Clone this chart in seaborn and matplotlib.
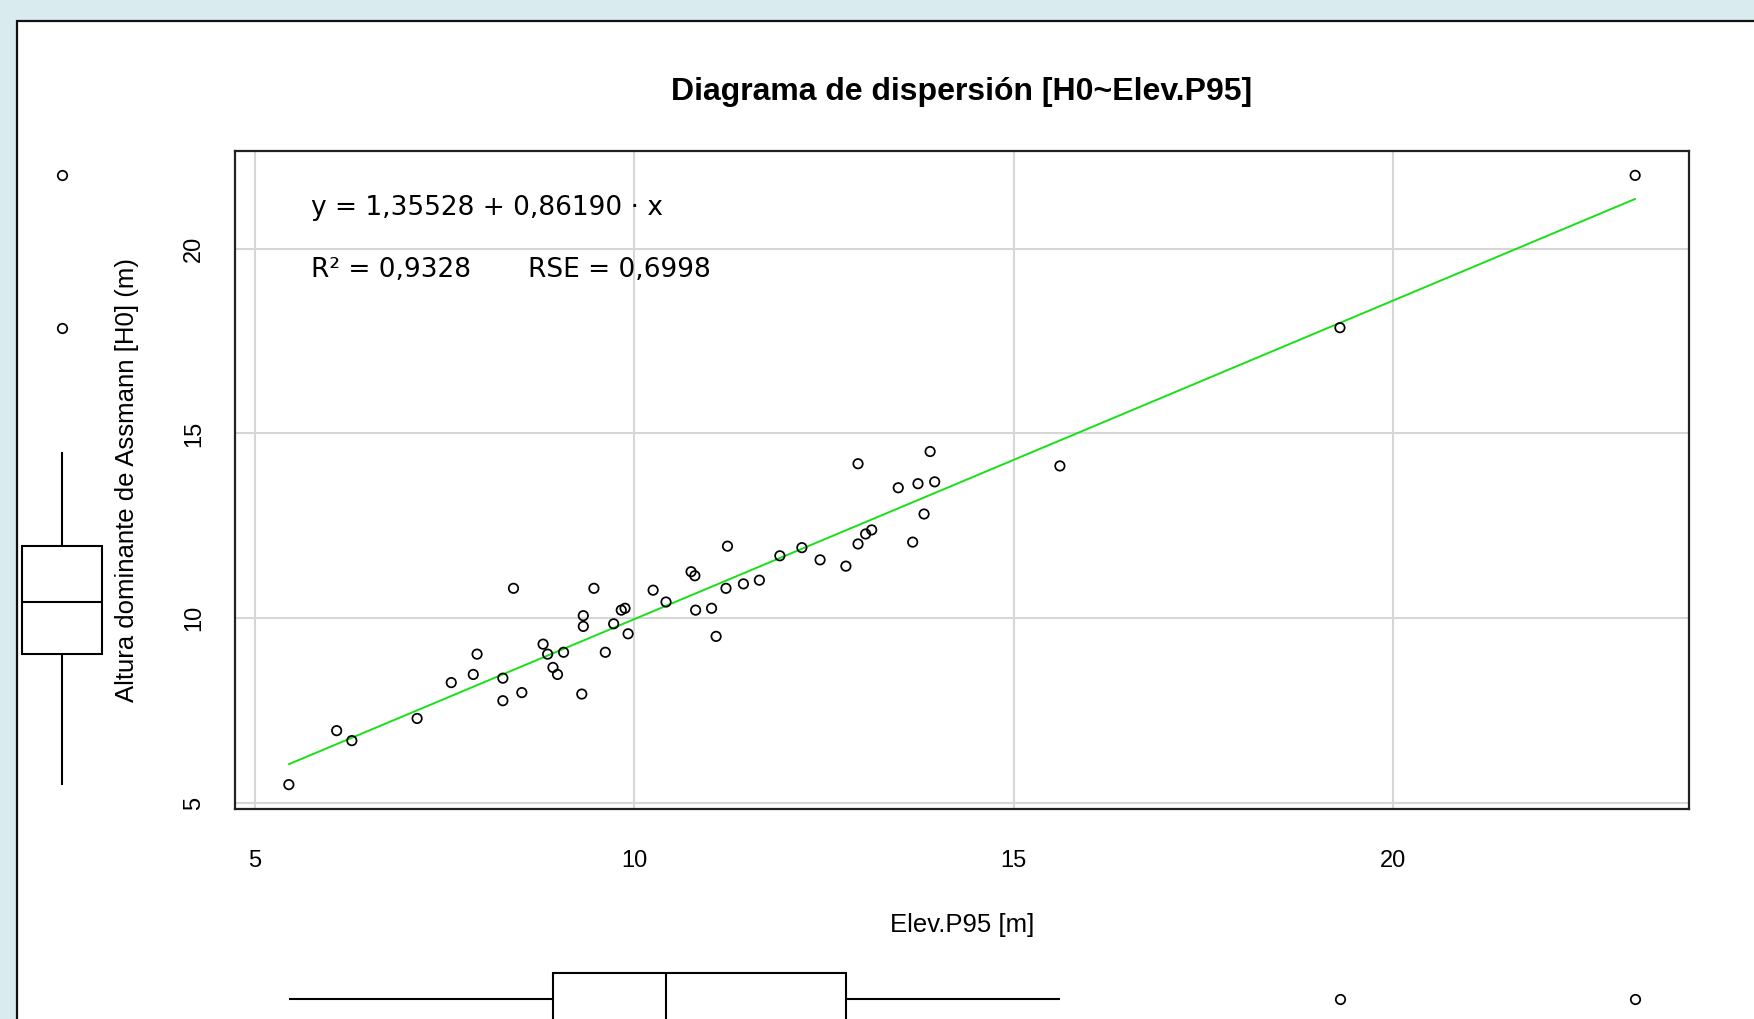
import numpy as np
import pandas as pd
import seaborn as sns
import matplotlib.pyplot as plt
from matplotlib.patches import Rectangle

# ─── data ────────────────────────────────────────────────────────────────
elev_p95 = [5.45, 6.08, 6.28, 7.14, 7.59, 7.88, 7.93, 8.27, 8.27, 8.41,
            8.52, 8.80, 8.86, 8.93, 8.99, 9.07, 9.31, 9.33, 9.33, 9.47,
            9.62, 9.73, 9.83, 9.88, 9.92, 10.25, 10.42, 10.75, 10.80, 10.81,
            11.02, 11.08, 11.21, 11.23, 11.44, 11.65, 11.92, 12.21, 12.45, 12.79,
            12.95, 12.95, 13.05, 13.13, 13.48, 13.67, 13.74, 13.82, 13.90, 13.96,
            15.61, 19.30, 23.19]
h0 = [5.50, 6.96, 6.69, 7.29, 8.26, 8.48, 9.03, 8.38, 7.77, 10.81,
      7.99, 9.30, 9.03, 8.67, 8.48, 9.08, 7.95, 10.07, 9.78, 10.81,
      9.08, 9.85, 10.22, 10.27, 9.58, 10.76, 10.44, 11.26, 11.15, 10.22,
      10.27, 9.51, 10.81, 11.95, 10.93, 11.03, 11.69, 11.91, 11.58, 11.41,
      14.18, 12.01, 12.28, 12.39, 13.53, 12.06, 13.64, 12.82, 14.51, 13.69,
      14.12, 17.86, 21.98]

INTERCEPT = 1.35528
SLOPE = 0.86190
R2 = 0.9328
RSE = 0.6998
ticks = [5, 10, 15, 20]

df = pd.DataFrame({"elev": elev_p95, "h0": h0})

def fmt(v, n):
    return f"{v:.{n}f}".replace(".", ",")

# ─── figure ──────────────────────────────────────────────────────────────
sns.set_style("white")
plt.rcParams["font.family"] = ["Liberation Sans", "DejaVu Sans"]
plt.rcParams["text.color"] = "black"
plt.rcParams["axes.labelcolor"] = "black"

W, H = 1754, 1019
fig = plt.figure(figsize=(W / 100, H / 100), dpi=100, facecolor="#d9ebee")
fig.patches.append(Rectangle((17 / W, -0.05), 1.2, 1 - 21 / H + 0.05,
                             transform=fig.transFigure, facecolor="white",
                             edgecolor="#111111", linewidth=1.6, zorder=-10))

def px_axes(x0, y0, x1, y1):
    return [x0 / W, 1 - y1 / H, (x1 - x0) / W, (y1 - y0) / H]

ax = fig.add_axes(px_axes(235, 151, 1689, 809))
ax_l = fig.add_axes(px_axes(11.5, 151, 111.5, 809), sharey=ax)
ax_b = fig.add_axes(px_axes(235, 966.5, 1689, 1031.5), sharex=ax)

# grid
for t in ticks:
    ax.axvline(t, color="#d6d6d6", lw=1.5, zorder=0)
    ax.axhline(t, color="#d6d6d6", lw=1.5, zorder=0)

sns.scatterplot(data=df, x="elev", y="h0", ax=ax, marker="o", s=46,
                facecolors="none", edgecolor="black", linewidth=1.25, zorder=3)

xl = np.array([df.elev.min(), df.elev.max()])
sns.lineplot(x=xl, y=INTERCEPT + SLOPE * xl, ax=ax, color="#18e018", lw=1.4, zorder=2)

# 4% padding like R
def padded(v):
    lo, hi = min(v), max(v)
    p = 0.04 * (hi - lo)
    return lo - p, hi + p

ax.set_xlim(*padded(elev_p95))
ax.set_ylim(*padded(h0))
ax.set_xticks(ticks)
ax.set_yticks(ticks)
ax.tick_params(axis="both", direction="out", length=11.5, width=1.2,
               colors="black", labelsize=17)
ax.tick_params(axis="x", pad=18)
ax.tick_params(axis="y", pad=10)
for lab in ax.get_yticklabels():
    lab.set_rotation(90)
    lab.set_va("center")
for sp in ax.spines.values():
    sp.set_color("#222222")
    sp.set_linewidth(1.6)

ax.set_xlabel("Elev.P95 [m]", fontsize=18.5, labelpad=29.5)
ax.set_ylabel("Altura dominante de Assmann [H0] (m)", fontsize=18.5,
              labelpad=32)
ax.set_title("Diagrama de dispersión [H0~Elev.P95]", fontsize=23,
             fontweight="bold", pad=37)

ax.text(0.0523, 0.9027, f"y = {fmt(INTERCEPT, 5)} + {fmt(SLOPE, 5)} · x",
        transform=ax.transAxes, family="DejaVu Sans", fontsize=19, va="baseline")
ax.text(0.0523, 0.809, f"R² = {fmt(R2, 4)}", transform=ax.transAxes,
        family="DejaVu Sans", fontsize=19, va="baseline")
ax.text(0.2015, 0.809, f"RSE = {fmt(RSE, 4)}", transform=ax.transAxes,
        family="DejaVu Sans", fontsize=19, va="baseline")

# marginal boxplots
box_kw = dict(width=0.8, color="white", linecolor="black", linewidth=1.5,
              showcaps=False,
              flierprops=dict(marker="o", markersize=6.8, markerfacecolor="none",
                              markeredgecolor="black", markeredgewidth=1.25))
sns.boxplot(y=df.h0, ax=ax_l, **box_kw)
ax_l.set_xlim(-0.5, 0.5)
ax_l.axis("off")

sns.boxplot(x=df.elev, ax=ax_b, orient="h", **box_kw)
ax_b.set_ylim(0.5, -0.5)
ax_b.axis("off")

ax.set_xlim(*padded(elev_p95))
ax.set_ylim(*padded(h0))

fig.savefig("out.png", dpi=100, facecolor=fig.get_facecolor())
